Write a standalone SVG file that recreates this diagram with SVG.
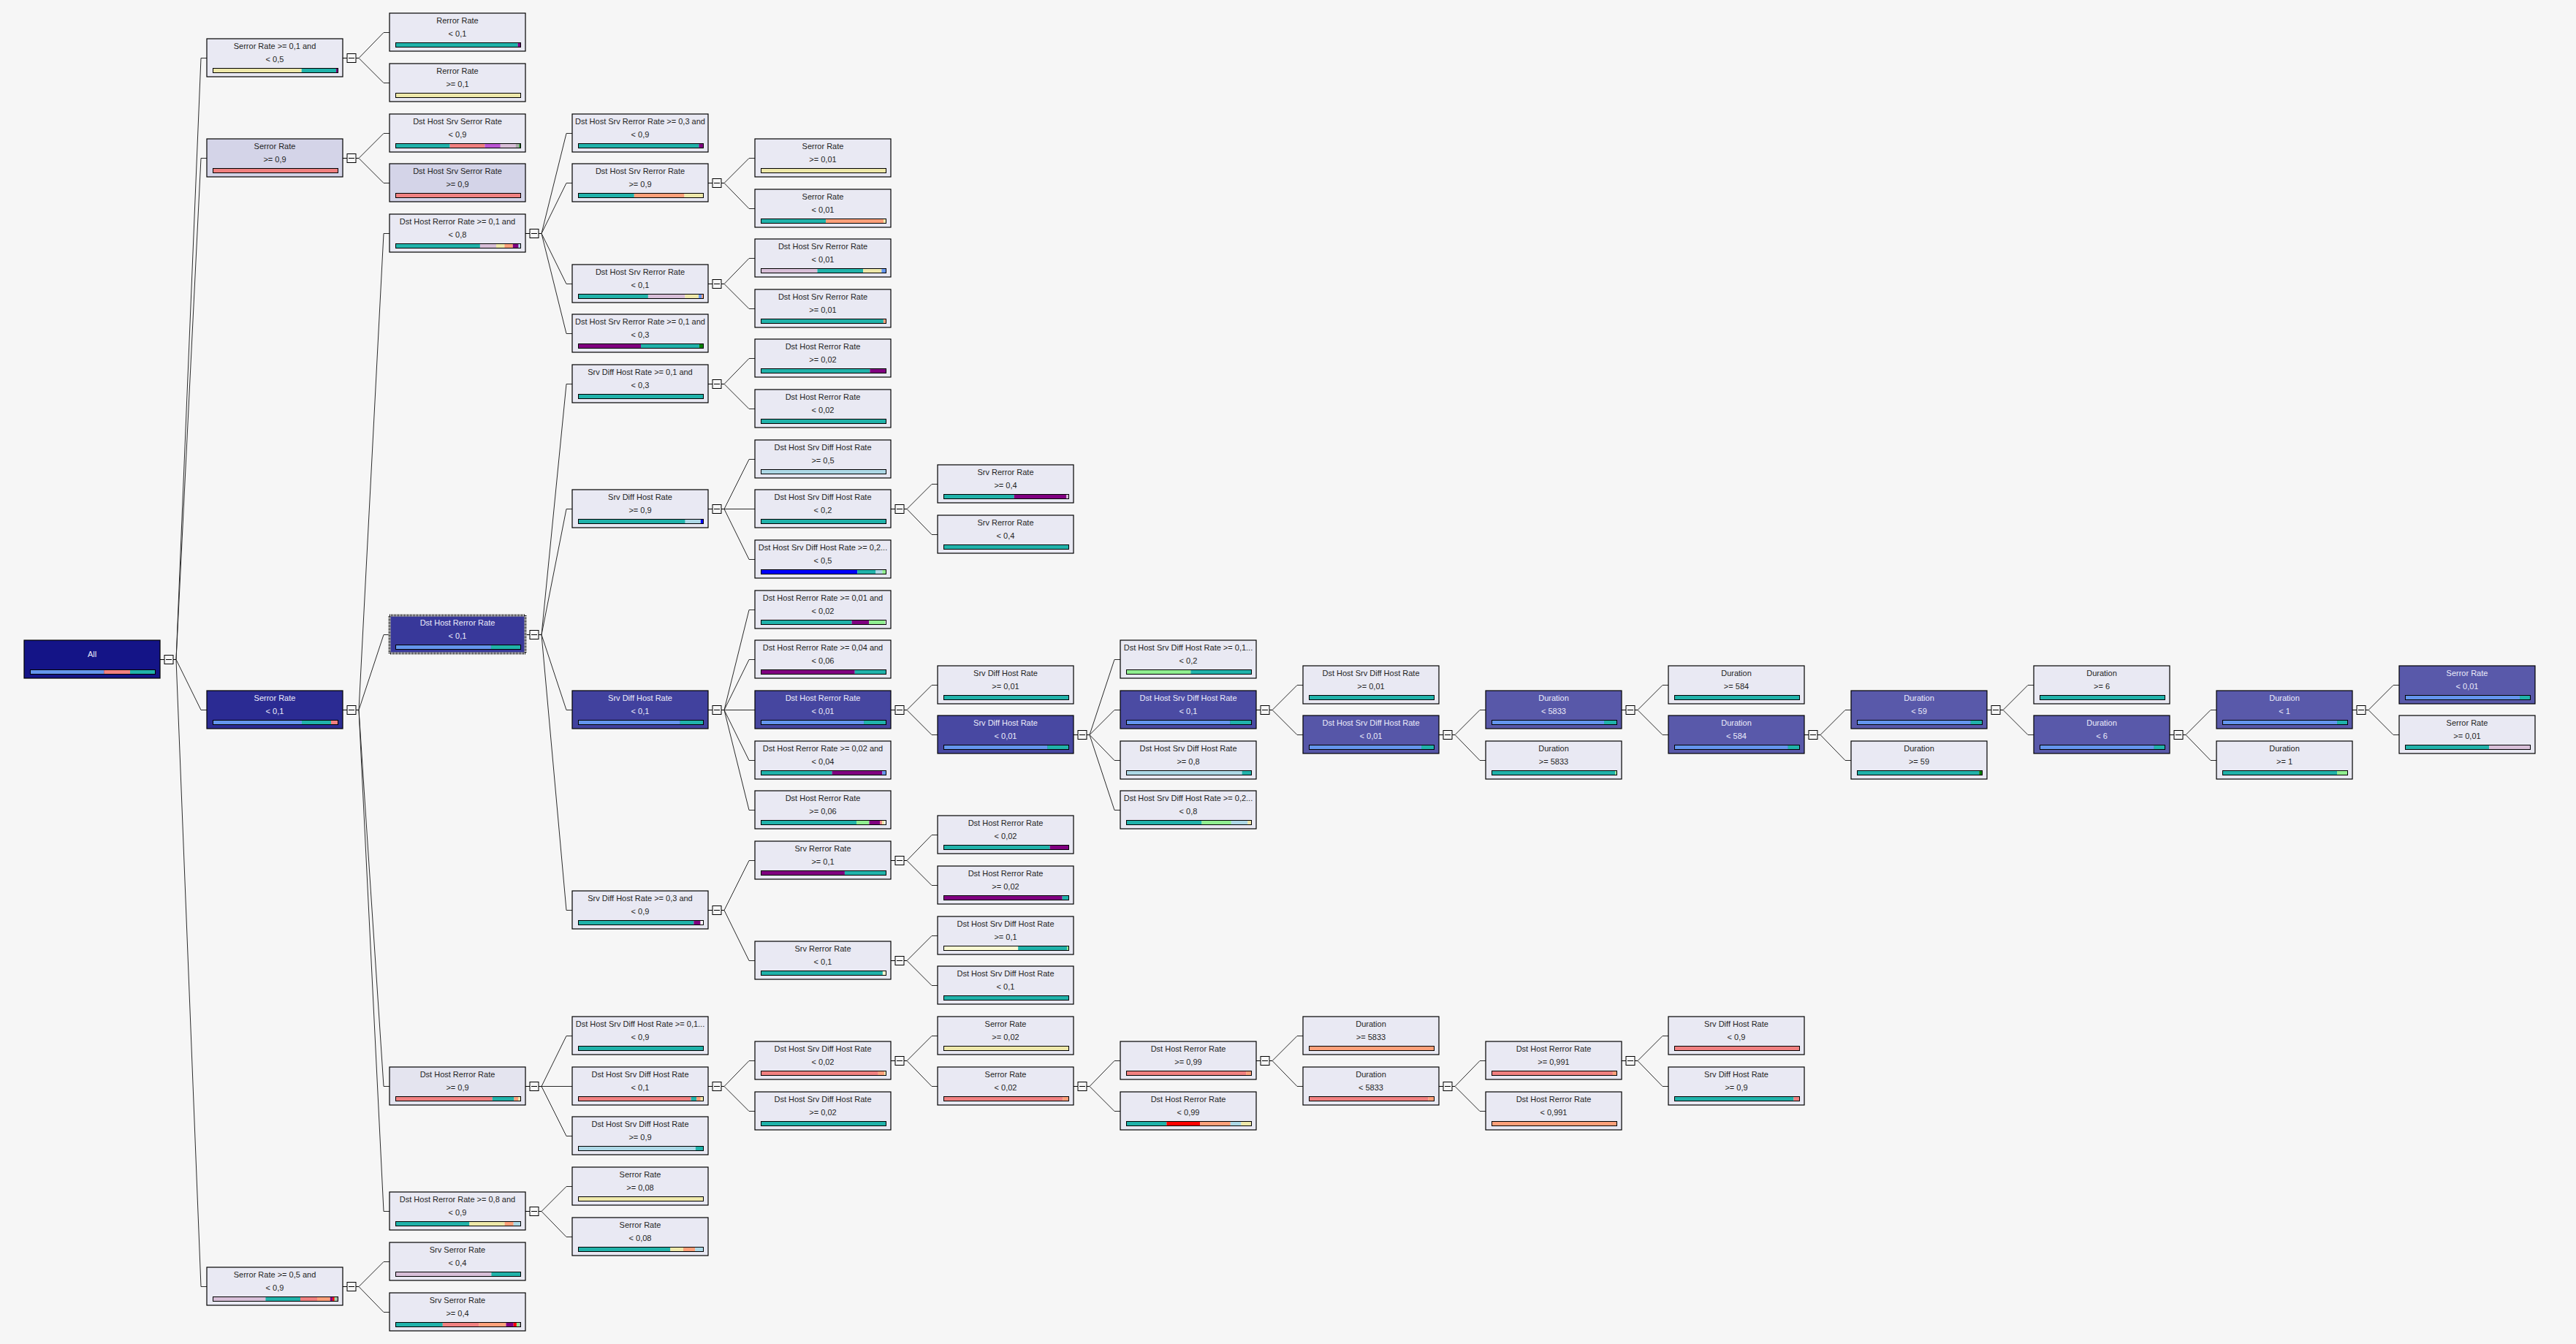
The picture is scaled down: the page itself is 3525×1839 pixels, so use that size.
<svg xmlns="http://www.w3.org/2000/svg" xmlns:xlink="http://www.w3.org/1999/xlink" width="3525" height="1839" viewBox="0 0 3525 1839">
<defs>
<style>
.node text{font-family:"Liberation Sans",Arial,sans-serif;font-size:11px;text-anchor:middle;fill:#1e1e1e}
.node.dk text{fill:#ECECFA}
.box{stroke:#000;stroke-width:1.2;fill:#E9E9F3}
.bo{fill:none;stroke:#000;stroke-width:1}
.edges path{fill:none;stroke:#2a2a2a;stroke-width:1}
.tg rect{fill:#F8F8F8;stroke:#000;stroke-width:1}
.cb{fill:#6495ED}.cr{fill:#F08080}.cg{fill:#20B2AA}.ck{fill:#EEE8AA}.cp{fill:#800080}.co{fill:#BA55D3}
.ct{fill:#D8BFD8}.cy{fill:#A9A9A9}.cdg{fill:#008000}.cs{fill:#FFA07A}.cl{fill:#ADD8E6}.cbl{fill:#0000FF}
.cn{fill:#90EE90}.crd{fill:#FF0000}.cw{fill:#FAFAD2}.cwh{fill:#FFFFFF}
</style>
<g id="tg" class="tg"><path d="M0,0H6M18,0H22" stroke="#000" stroke-width="1"/><rect x="6" y="-6" width="12" height="12"/><path d="M8,0H16" stroke="#000" stroke-width="1"/></g>
</defs>
<rect width="3525" height="1839" fill="#F6F6F6"/>

<!-- connectors: parent fan point -> bend -> child left edge -->
<g id="connectors" class="edges" transform="translate(0,0.5)">
<path d="M241,902L275,79H283M241,902L275,216H283M241,902L275,971H283M241,902L275,1760H283"/>
<path d="M491,79L525,44H533M491,79L525,113H533"/>
<path d="M491,216L525,182H533M491,216L525,250H533"/>
<path d="M491,971L525,319H533M491,971L525,868H533M491,971L525,1486H533M491,971L525,1657H533"/>
<path d="M491,1760L525,1726H533M491,1760L525,1795H533"/>
<path d="M741,319L775,182H783M741,319L775,250H783M741,319L775,388H783M741,319L775,456H783"/>
<path d="M741,868L775,525H783M741,868L775,696H783M741,868L775,971H783M741,868L775,1245H783"/>
<path d="M741,1486L775,1417H783M741,1486L775,1486H783M741,1486L775,1554H783"/>
<path d="M741,1657L775,1623H783M741,1657L775,1692H783"/>
<path d="M991,250L1025,216H1033M991,250L1025,285H1033"/>
<path d="M991,388L1025,353H1033M991,388L1025,422H1033"/>
<path d="M991,525L1025,490H1033M991,525L1025,559H1033"/>
<path d="M991,696L1025,628H1033M991,696L1025,696H1033M991,696L1025,765H1033"/>
<path d="M991,971L1025,834H1033M991,971L1025,902H1033M991,971L1025,971H1033M991,971L1025,1040H1033M991,971L1025,1108H1033"/>
<path d="M991,1245L1025,1177H1033M991,1245L1025,1314H1033"/>
<path d="M991,1486L1025,1451H1033M991,1486L1025,1520H1033"/>
<path d="M1241,696L1275,662H1283M1241,696L1275,731H1283"/>
<path d="M1241,971L1275,937H1283M1241,971L1275,1005H1283"/>
<path d="M1241,1177L1275,1142H1283M1241,1177L1275,1211H1283"/>
<path d="M1241,1314L1275,1280H1283M1241,1314L1275,1348H1283"/>
<path d="M1241,1451L1275,1417H1283M1241,1451L1275,1486H1283"/>
<path d="M1491,1005L1525,902H1533M1491,1005L1525,971H1533M1491,1005L1525,1040H1533M1491,1005L1525,1108H1533"/>
<path d="M1491,1486L1525,1451H1533M1491,1486L1525,1520H1533"/>
<path d="M1741,971L1775,937H1783M1741,971L1775,1005H1783"/>
<path d="M1741,1451L1775,1417H1783M1741,1451L1775,1486H1783"/>
<path d="M1991,1005L2025,971H2033M1991,1005L2025,1040H2033"/>
<path d="M1991,1486L2025,1451H2033M1991,1486L2025,1520H2033"/>
<path d="M2241,971L2275,937H2283M2241,971L2275,1005H2283"/>
<path d="M2241,1451L2275,1417H2283M2241,1451L2275,1486H2283"/>
<path d="M2491,1005L2525,971H2533M2491,1005L2525,1040H2533"/>
<path d="M2741,971L2775,937H2783M2741,971L2775,1005H2783"/>
<path d="M2991,1005L3025,971H3033M2991,1005L3025,1040H3033"/>
<path d="M3241,971L3275,937H3283M3241,971L3275,1005H3283"/>
<!-- collapse toggles -->
<use xlink:href="#tg" href="#tg" x="219" y="902"/>
<use xlink:href="#tg" href="#tg" x="469" y="79"/><use xlink:href="#tg" href="#tg" x="469" y="216"/><use xlink:href="#tg" href="#tg" x="469" y="971"/><use xlink:href="#tg" href="#tg" x="469" y="1760"/>
<use xlink:href="#tg" href="#tg" x="719" y="319"/><use xlink:href="#tg" href="#tg" x="719" y="868"/><use xlink:href="#tg" href="#tg" x="719" y="1486"/><use xlink:href="#tg" href="#tg" x="719" y="1657"/>
<use xlink:href="#tg" href="#tg" x="969" y="250"/><use xlink:href="#tg" href="#tg" x="969" y="388"/><use xlink:href="#tg" href="#tg" x="969" y="525"/><use xlink:href="#tg" href="#tg" x="969" y="696"/><use xlink:href="#tg" href="#tg" x="969" y="971"/><use xlink:href="#tg" href="#tg" x="969" y="1245"/><use xlink:href="#tg" href="#tg" x="969" y="1486"/>
<use xlink:href="#tg" href="#tg" x="1219" y="696"/><use xlink:href="#tg" href="#tg" x="1219" y="971"/><use xlink:href="#tg" href="#tg" x="1219" y="1177"/><use xlink:href="#tg" href="#tg" x="1219" y="1314"/><use xlink:href="#tg" href="#tg" x="1219" y="1451"/>
<use xlink:href="#tg" href="#tg" x="1469" y="1005"/><use xlink:href="#tg" href="#tg" x="1469" y="1486"/>
<use xlink:href="#tg" href="#tg" x="1719" y="971"/><use xlink:href="#tg" href="#tg" x="1719" y="1451"/>
<use xlink:href="#tg" href="#tg" x="1969" y="1005"/><use xlink:href="#tg" href="#tg" x="1969" y="1486"/>
<use xlink:href="#tg" href="#tg" x="2219" y="971"/><use xlink:href="#tg" href="#tg" x="2219" y="1451"/>
<use xlink:href="#tg" href="#tg" x="2469" y="1005"/>
<use xlink:href="#tg" href="#tg" x="2719" y="971"/>
<use xlink:href="#tg" href="#tg" x="2969" y="1005"/>
<use xlink:href="#tg" href="#tg" x="3219" y="971"/>
</g>

<!-- level 0 -->
<g id="n-all" class="node dk" transform="translate(33,876)"><rect class="box" width="186" height="52" style="fill:#141487"/><text x="93" y="23">All</text>
<rect class="cb" x="9" y="41" width="100.3" height="5"/><rect class="cr" x="109.3" y="41" width="35.7" height="5"/><rect class="cg" x="145" y="41" width="34" height="5"/><rect class="bo" x="8.5" y="40.5" width="171" height="6"/></g>

<!-- level 1 -->
<g id="n-serror-01-05" class="node" transform="translate(283,53)"><rect class="box" width="186" height="52"/><text x="93" y="14">Serror Rate &gt;= 0,1 and</text><text x="93" y="32">&lt; 0,5</text>
<rect class="ck" x="9" y="41" width="120.7" height="5"/><rect class="cg" x="129.7" y="41" width="47.3" height="5"/><rect class="cp" x="177" y="41" width="2" height="5"/><rect class="bo" x="8.5" y="40.5" width="171" height="6"/></g>
<g id="n-serror-ge09" class="node" transform="translate(283,190)"><rect class="box" width="186" height="52" style="fill:#D4D4E8"/><text x="93" y="14">Serror Rate</text><text x="93" y="32">&gt;= 0,9</text>
<rect class="cr" x="9" y="41" width="170" height="5"/><rect class="bo" x="8.5" y="40.5" width="171" height="6"/></g>
<g id="n-serror-lt01" class="node dk" transform="translate(283,945)"><rect class="box" width="186" height="52" style="fill:#2B2B93"/><text x="93" y="14">Serror Rate</text><text x="93" y="32">&lt; 0,1</text>
<rect class="cb" x="9" y="41" width="121" height="5"/><rect class="cg" x="130" y="41" width="40" height="5"/><rect class="cr" x="170" y="41" width="9" height="5"/><rect class="bo" x="8.5" y="40.5" width="171" height="6"/></g>
<g id="n-serror-05-09" class="node" transform="translate(283,1734)"><rect class="box" width="186" height="52"/><text x="93" y="14">Serror Rate &gt;= 0,5 and</text><text x="93" y="32">&lt; 0,9</text>
<rect class="ct" x="9" y="41" width="71.4" height="5"/><rect class="cg" x="80.4" y="41" width="47.6" height="5"/><rect class="cr" x="128" y="41" width="23" height="5"/><rect class="cs" x="151" y="41" width="17.8" height="5"/><rect class="cp" x="168.8" y="41" width="3.4" height="5"/><rect class="crd" x="172.2" y="41" width="2.6" height="5"/><rect class="cn" x="174.8" y="41" width="2" height="5"/><rect class="cy" x="176.8" y="41" width="2.2" height="5"/><rect class="bo" x="8.5" y="40.5" width="171" height="6"/></g>

<!-- level 2 -->
<g id="n-rerror-lt01" class="node" transform="translate(533,18)"><rect class="box" width="186" height="52"/><text x="93" y="14">Rerror Rate</text><text x="93" y="32">&lt; 0,1</text>
<rect class="cg" x="9" y="41" width="166.6" height="5"/><rect class="cp" x="175.6" y="41" width="3.4" height="5"/><rect class="bo" x="8.5" y="40.5" width="171" height="6"/></g>
<g id="n-rerror-ge01" class="node" transform="translate(533,87)"><rect class="box" width="186" height="52"/><text x="93" y="14">Rerror Rate</text><text x="93" y="32">&gt;= 0,1</text>
<rect class="ck" x="9" y="41" width="170" height="5"/><rect class="bo" x="8.5" y="40.5" width="171" height="6"/></g>
<g id="n-dhsserror-lt09" class="node" transform="translate(533,156)"><rect class="box" width="186" height="52"/><text x="93" y="14">Dst Host Srv Serror Rate</text><text x="93" y="32">&lt; 0,9</text>
<rect class="cg" x="9" y="41" width="73.6" height="5"/><rect class="cr" x="82.6" y="41" width="47.8" height="5"/><rect class="co" x="130.4" y="41" width="21.4" height="5"/><rect class="ct" x="151.8" y="41" width="20.9" height="5"/><rect class="cy" x="172.7" y="41" width="4.9" height="5"/><rect class="cdg" x="177.6" y="41" width="1.4" height="5"/><rect class="bo" x="8.5" y="40.5" width="171" height="6"/></g>
<g id="n-dhsserror-ge09" class="node" transform="translate(533,224)"><rect class="box" width="186" height="52" style="fill:#D4D4E8"/><text x="93" y="14">Dst Host Srv Serror Rate</text><text x="93" y="32">&gt;= 0,9</text>
<rect class="cr" x="9" y="41" width="170" height="5"/><rect class="bo" x="8.5" y="40.5" width="171" height="6"/></g>
<g id="n-dhrerror-01-08" class="node" transform="translate(533,293)"><rect class="box" width="186" height="52"/><text x="93" y="14">Dst Host Rerror Rate &gt;= 0,1 and</text><text x="93" y="32">&lt; 0,8</text>
<rect class="cg" x="9" y="41" width="114.9" height="5"/><rect class="ct" x="123.9" y="41" width="22.1" height="5"/><rect class="ck" x="146" y="41" width="11.4" height="5"/><rect class="cs" x="157.4" y="41" width="11.4" height="5"/><rect class="cp" x="168.8" y="41" width="7.8" height="5"/><rect class="cl" x="176.6" y="41" width="2.4" height="5"/><rect class="bo" x="8.5" y="40.5" width="171" height="6"/></g>
<g id="n-dhrerror-lt01" class="node dk" transform="translate(533,842)"><rect class="box" width="186" height="52" style="fill:#38389A"/>
<rect x="0" y="0" width="186" height="52" fill="none" stroke="#fff" stroke-width="3"/><rect x="0" y="0" width="186" height="52" fill="none" stroke="#000" stroke-width="3" stroke-dasharray="1 1"/>
<text x="93" y="14">Dst Host Rerror Rate</text><text x="93" y="32">&lt; 0,1</text>
<rect class="cb" x="9" y="41" width="129.9" height="5"/><rect class="cg" x="138.9" y="41" width="40.1" height="5"/><rect class="bo" x="8.5" y="40.5" width="171" height="6"/></g>
<g id="n-dhrerror-ge09" class="node" transform="translate(533,1460)"><rect class="box" width="186" height="52" style="fill:#E4E4EF"/><text x="93" y="14">Dst Host Rerror Rate</text><text x="93" y="32">&gt;= 0,9</text>
<rect class="cr" x="9" y="41" width="131.8" height="5"/><rect class="cg" x="140.8" y="41" width="29.7" height="5"/><rect class="cs" x="170.5" y="41" width="5.8" height="5"/><rect class="ck" x="176.3" y="41" width="2.7" height="5"/><rect class="bo" x="8.5" y="40.5" width="171" height="6"/></g>
<g id="n-dhrerror-08-09" class="node" transform="translate(533,1631)"><rect class="box" width="186" height="52"/><text x="93" y="14">Dst Host Rerror Rate &gt;= 0,8 and</text><text x="93" y="32">&lt; 0,9</text>
<rect class="cg" x="9" y="41" width="100.3" height="5"/><rect class="ck" x="109.3" y="41" width="48.3" height="5"/><rect class="cs" x="157.6" y="41" width="12.1" height="5"/><rect class="cl" x="169.7" y="41" width="9.3" height="5"/><rect class="bo" x="8.5" y="40.5" width="171" height="6"/></g>
<g id="n-srvserror-lt04" class="node" transform="translate(533,1700)"><rect class="box" width="186" height="52"/><text x="93" y="14">Srv Serror Rate</text><text x="93" y="32">&lt; 0,4</text>
<rect class="ct" x="9" y="41" width="130.4" height="5"/><rect class="cg" x="139.4" y="41" width="39.6" height="5"/><rect class="bo" x="8.5" y="40.5" width="171" height="6"/></g>
<g id="n-srvserror-ge04" class="node" transform="translate(533,1769)"><rect class="box" width="186" height="52"/><text x="93" y="14">Srv Serror Rate</text><text x="93" y="32">&gt;= 0,4</text>
<rect class="cg" x="9" y="41" width="63.8" height="5"/><rect class="cr" x="72.8" y="41" width="49.8" height="5"/><rect class="cs" x="122.6" y="41" width="36.9" height="5"/><rect class="cp" x="159.5" y="41" width="10.2" height="5"/><rect class="crd" x="169.7" y="41" width="4.2" height="5"/><rect class="cn" x="173.9" y="41" width="3.4" height="5"/><rect class="cy" x="177.3" y="41" width="1.7" height="5"/><rect class="bo" x="8.5" y="40.5" width="171" height="6"/></g>

<!-- level 3 -->
<g id="n-dhsrerror-03-09" class="node" transform="translate(783,156)"><rect class="box" width="186" height="52"/><text x="93" y="14">Dst Host Srv Rerror Rate &gt;= 0,3 and</text><text x="93" y="32">&lt; 0,9</text>
<rect class="cg" x="9" y="41" width="164.4" height="5"/><rect class="cp" x="173.4" y="41" width="5.6" height="5"/><rect class="bo" x="8.5" y="40.5" width="171" height="6"/></g>
<g id="n-dhsrerror-ge09" class="node" transform="translate(783,224)"><rect class="box" width="186" height="52"/><text x="93" y="14">Dst Host Srv Rerror Rate</text><text x="93" y="32">&gt;= 0,9</text>
<rect class="cg" x="9" y="41" width="75.8" height="5"/><rect class="cs" x="84.8" y="41" width="68.7" height="5"/><rect class="ck" x="153.5" y="41" width="25.5" height="5"/><rect class="bo" x="8.5" y="40.5" width="171" height="6"/></g>
<g id="n-dhsrerror-lt01" class="node" transform="translate(783,362)"><rect class="box" width="186" height="52"/><text x="93" y="14">Dst Host Srv Rerror Rate</text><text x="93" y="32">&lt; 0,1</text>
<rect class="cg" x="9" y="41" width="94.9" height="5"/><rect class="ct" x="103.9" y="41" width="50.5" height="5"/><rect class="ck" x="154.4" y="41" width="18.7" height="5"/><rect class="cb" x="173.1" y="41" width="4.2" height="5"/><rect class="cs" x="177.3" y="41" width="1.7" height="5"/><rect class="bo" x="8.5" y="40.5" width="171" height="6"/></g>
<g id="n-dhsrerror-01-03" class="node" transform="translate(783,430)"><rect class="box" width="186" height="52"/><text x="93" y="14">Dst Host Srv Rerror Rate &gt;= 0,1 and</text><text x="93" y="32">&lt; 0,3</text>
<rect class="cp" x="9" y="41" width="85" height="5"/><rect class="cg" x="94" y="41" width="79.9" height="5"/><rect class="cdg" x="173.9" y="41" width="5.1" height="5"/><rect class="bo" x="8.5" y="40.5" width="171" height="6"/></g>
<g id="n-sdhr-01-03" class="node" transform="translate(783,499)"><rect class="box" width="186" height="52"/><text x="93" y="14">Srv Diff Host Rate &gt;= 0,1 and</text><text x="93" y="32">&lt; 0,3</text>
<rect class="cg" x="9" y="41" width="170" height="5"/><rect class="bo" x="8.5" y="40.5" width="171" height="6"/></g>
<g id="n-sdhr-ge09" class="node" transform="translate(783,670)"><rect class="box" width="186" height="52"/><text x="93" y="14">Srv Diff Host Rate</text><text x="93" y="32">&gt;= 0,9</text>
<rect class="cg" x="9" y="41" width="145.7" height="5"/><rect class="cl" x="154.7" y="41" width="21.1" height="5"/><rect class="cbl" x="175.8" y="41" width="3.2" height="5"/><rect class="bo" x="8.5" y="40.5" width="171" height="6"/></g>
<g id="n-sdhr-lt01" class="node dk" transform="translate(783,945)"><rect class="box" width="186" height="52" style="fill:#41419E"/><text x="93" y="14">Srv Diff Host Rate</text><text x="93" y="32">&lt; 0,1</text>
<rect class="cb" x="9" y="41" width="138.7" height="5"/><rect class="cg" x="147.7" y="41" width="31.3" height="5"/><rect class="bo" x="8.5" y="40.5" width="171" height="6"/></g>
<g id="n-sdhr-03-09" class="node" transform="translate(783,1219)"><rect class="box" width="186" height="52"/><text x="93" y="14">Srv Diff Host Rate &gt;= 0,3 and</text><text x="93" y="32">&lt; 0,9</text>
<rect class="cg" x="9" y="41" width="157.4" height="5"/><rect class="cp" x="166.4" y="41" width="9.2" height="5"/><rect class="cwh" x="175.6" y="41" width="3.4" height="5"/><rect class="bo" x="8.5" y="40.5" width="171" height="6"/></g>
<g id="n-dhsdhr-01-09" class="node" transform="translate(783,1391)"><rect class="box" width="186" height="52"/><text x="93" y="14">Dst Host Srv Diff Host Rate &gt;= 0,1...</text><text x="93" y="32">&lt; 0,9</text>
<rect class="cg" x="9" y="41" width="170" height="5"/><rect class="bo" x="8.5" y="40.5" width="171" height="6"/></g>
<g id="n-dhsdhr-lt01-a" class="node" transform="translate(783,1460)"><rect class="box" width="186" height="52"/><text x="93" y="14">Dst Host Srv Diff Host Rate</text><text x="93" y="32">&lt; 0,1</text>
<rect class="cr" x="9" y="41" width="153.7" height="5"/><rect class="cg" x="162.7" y="41" width="7.5" height="5"/><rect class="cs" x="170.2" y="41" width="5.6" height="5"/><rect class="ck" x="175.8" y="41" width="3.2" height="5"/><rect class="bo" x="8.5" y="40.5" width="171" height="6"/></g>
<g id="n-dhsdhr-ge09" class="node" transform="translate(783,1528)"><rect class="box" width="186" height="52"/><text x="93" y="14">Dst Host Srv Diff Host Rate</text><text x="93" y="32">&gt;= 0,9</text>
<rect class="cl" x="9" y="41" width="159.8" height="5"/><rect class="cg" x="168.8" y="41" width="10.2" height="5"/><rect class="bo" x="8.5" y="40.5" width="171" height="6"/></g>
<g id="n-serror-ge008" class="node" transform="translate(783,1597)"><rect class="box" width="186" height="52"/><text x="93" y="14">Serror Rate</text><text x="93" y="32">&gt;= 0,08</text>
<rect class="ck" x="9" y="41" width="170" height="5"/><rect class="bo" x="8.5" y="40.5" width="171" height="6"/></g>
<g id="n-serror-lt008" class="node" transform="translate(783,1666)"><rect class="box" width="186" height="52"/><text x="93" y="14">Serror Rate</text><text x="93" y="32">&lt; 0,08</text>
<rect class="cg" x="9" y="41" width="125.3" height="5"/><rect class="ck" x="134.3" y="41" width="17.7" height="5"/><rect class="cs" x="152" y="41" width="16.3" height="5"/><rect class="cl" x="168.3" y="41" width="10.7" height="5"/><rect class="bo" x="8.5" y="40.5" width="171" height="6"/></g>

<!-- level 4 -->
<g id="n-serror-ge001-a" class="node" transform="translate(1033,190)"><rect class="box" width="186" height="52"/><text x="93" y="14">Serror Rate</text><text x="93" y="32">&gt;= 0,01</text>
<rect class="ck" x="9" y="41" width="170" height="5"/><rect class="bo" x="8.5" y="40.5" width="171" height="6"/></g>
<g id="n-serror-lt001-a" class="node" transform="translate(1033,259)"><rect class="box" width="186" height="52"/><text x="93" y="14">Serror Rate</text><text x="93" y="32">&lt; 0,01</text>
<rect class="cg" x="9" y="41" width="88.1" height="5"/><rect class="cs" x="97.1" y="41" width="78.9" height="5"/><rect class="ck" x="176" y="41" width="3" height="5"/><rect class="bo" x="8.5" y="40.5" width="171" height="6"/></g>
<g id="n-dhsrerror-lt001" class="node" transform="translate(1033,327)"><rect class="box" width="186" height="52"/><text x="93" y="14">Dst Host Srv Rerror Rate</text><text x="93" y="32">&lt; 0,01</text>
<rect class="ct" x="9" y="41" width="76.5" height="5"/><rect class="cg" x="85.5" y="41" width="62.6" height="5"/><rect class="ck" x="148.1" y="41" width="25.3" height="5"/><rect class="cb" x="173.4" y="41" width="5.6" height="5"/><rect class="bo" x="8.5" y="40.5" width="171" height="6"/></g>
<g id="n-dhsrerror-ge001" class="node" transform="translate(1033,396)"><rect class="box" width="186" height="52"/><text x="93" y="14">Dst Host Srv Rerror Rate</text><text x="93" y="32">&gt;= 0,01</text>
<rect class="cg" x="9" y="41" width="166.9" height="5"/><rect class="cs" x="175.9" y="41" width="3.1" height="5"/><rect class="bo" x="8.5" y="40.5" width="171" height="6"/></g>
<g id="n-dhrerror-ge002-a" class="node" transform="translate(1033,464)"><rect class="box" width="186" height="52"/><text x="93" y="14">Dst Host Rerror Rate</text><text x="93" y="32">&gt;= 0,02</text>
<rect class="cg" x="9" y="41" width="148.4" height="5"/><rect class="cp" x="157.4" y="41" width="21.6" height="5"/><rect class="bo" x="8.5" y="40.5" width="171" height="6"/></g>
<g id="n-dhrerror-lt002-a" class="node" transform="translate(1033,533)"><rect class="box" width="186" height="52"/><text x="93" y="14">Dst Host Rerror Rate</text><text x="93" y="32">&lt; 0,02</text>
<rect class="cg" x="9" y="41" width="170" height="5"/><rect class="bo" x="8.5" y="40.5" width="171" height="6"/></g>
<g id="n-dhsdhr-ge05" class="node" transform="translate(1033,602)"><rect class="box" width="186" height="52"/><text x="93" y="14">Dst Host Srv Diff Host Rate</text><text x="93" y="32">&gt;= 0,5</text>
<rect class="cl" x="9" y="41" width="170" height="5"/><rect class="bo" x="8.5" y="40.5" width="171" height="6"/></g>
<g id="n-dhsdhr-lt02" class="node" transform="translate(1033,670)"><rect class="box" width="186" height="52"/><text x="93" y="14">Dst Host Srv Diff Host Rate</text><text x="93" y="32">&lt; 0,2</text>
<rect class="cg" x="9" y="41" width="170" height="5"/><rect class="bo" x="8.5" y="40.5" width="171" height="6"/></g>
<g id="n-dhsdhr-02-05" class="node" transform="translate(1033,739)"><rect class="box" width="186" height="52"/><text x="93" y="14">Dst Host Srv Diff Host Rate &gt;= 0,2...</text><text x="93" y="32">&lt; 0,5</text>
<rect class="cbl" x="9" y="41" width="131.2" height="5"/><rect class="cg" x="140.2" y="41" width="25.2" height="5"/><rect class="cl" x="165.4" y="41" width="9" height="5"/><rect class="cn" x="174.4" y="41" width="4.6" height="5"/><rect class="bo" x="8.5" y="40.5" width="171" height="6"/></g>
<g id="n-dhrerror-001-002" class="node" transform="translate(1033,808)"><rect class="box" width="186" height="52"/><text x="93" y="14">Dst Host Rerror Rate &gt;= 0,01 and</text><text x="93" y="32">&lt; 0,02</text>
<rect class="cg" x="9" y="41" width="123.6" height="5"/><rect class="cp" x="132.6" y="41" width="23.5" height="5"/><rect class="cn" x="156.1" y="41" width="22.1" height="5"/><rect class="cwh" x="178.2" y="41" width="0.8" height="5"/><rect class="bo" x="8.5" y="40.5" width="171" height="6"/></g>
<g id="n-dhrerror-004-006" class="node" transform="translate(1033,876)"><rect class="box" width="186" height="52"/><text x="93" y="14">Dst Host Rerror Rate &gt;= 0,04 and</text><text x="93" y="32">&lt; 0,06</text>
<rect class="cp" x="9" y="41" width="127.7" height="5"/><rect class="cg" x="136.7" y="41" width="42.3" height="5"/><rect class="bo" x="8.5" y="40.5" width="171" height="6"/></g>
<g id="n-dhrerror-lt001" class="node dk" transform="translate(1033,945)"><rect class="box" width="186" height="52" style="fill:#4646A0"/><text x="93" y="14">Dst Host Rerror Rate</text><text x="93" y="32">&lt; 0,01</text>
<rect class="cb" x="9" y="41" width="140.1" height="5"/><rect class="cg" x="149.1" y="41" width="29.9" height="5"/><rect class="bo" x="8.5" y="40.5" width="171" height="6"/></g>
<g id="n-dhrerror-002-004" class="node" transform="translate(1033,1014)"><rect class="box" width="186" height="52"/><text x="93" y="14">Dst Host Rerror Rate &gt;= 0,02 and</text><text x="93" y="32">&lt; 0,04</text>
<rect class="cg" x="9" y="41" width="96.6" height="5"/><rect class="cp" x="105.6" y="41" width="68.8" height="5"/><rect class="cb" x="174.4" y="41" width="4.6" height="5"/><rect class="bo" x="8.5" y="40.5" width="171" height="6"/></g>
<g id="n-dhrerror-ge006" class="node" transform="translate(1033,1082)"><rect class="box" width="186" height="52"/><text x="93" y="14">Dst Host Rerror Rate</text><text x="93" y="32">&gt;= 0,06</text>
<rect class="cg" x="9" y="41" width="130" height="5"/><rect class="cn" x="139" y="41" width="17.5" height="5"/><rect class="cp" x="156.5" y="41" width="14.6" height="5"/><rect class="cr" x="171.1" y="41" width="2.8" height="5"/><rect class="ck" x="173.9" y="41" width="3.4" height="5"/><rect class="cwh" x="177.3" y="41" width="1.7" height="5"/><rect class="bo" x="8.5" y="40.5" width="171" height="6"/></g>
<g id="n-srvrerror-ge01" class="node" transform="translate(1033,1151)"><rect class="box" width="186" height="52"/><text x="93" y="14">Srv Rerror Rate</text><text x="93" y="32">&gt;= 0,1</text>
<rect class="cp" x="9" y="41" width="113.9" height="5"/><rect class="cg" x="122.9" y="41" width="56.1" height="5"/><rect class="bo" x="8.5" y="40.5" width="171" height="6"/></g>
<g id="n-srvrerror-lt01" class="node" transform="translate(1033,1288)"><rect class="box" width="186" height="52"/><text x="93" y="14">Srv Rerror Rate</text><text x="93" y="32">&lt; 0,1</text>
<rect class="cg" x="9" y="41" width="165.9" height="5"/><rect class="cw" x="174.9" y="41" width="4.1" height="5"/><rect class="bo" x="8.5" y="40.5" width="171" height="6"/></g>
<g id="n-dhsdhr-lt002" class="node" transform="translate(1033,1425)"><rect class="box" width="186" height="52"/><text x="93" y="14">Dst Host Srv Diff Host Rate</text><text x="93" y="32">&lt; 0,02</text>
<rect class="cr" x="9" y="41" width="159.8" height="5"/><rect class="cs" x="168.8" y="41" width="8.5" height="5"/><rect class="ck" x="177.3" y="41" width="1.7" height="5"/><rect class="bo" x="8.5" y="40.5" width="171" height="6"/></g>
<g id="n-dhsdhr-ge002" class="node" transform="translate(1033,1494)"><rect class="box" width="186" height="52"/><text x="93" y="14">Dst Host Srv Diff Host Rate</text><text x="93" y="32">&gt;= 0,02</text>
<rect class="cg" x="9" y="41" width="170" height="5"/><rect class="bo" x="8.5" y="40.5" width="171" height="6"/></g>

<!-- level 5 -->
<g id="n-srvrerror-ge04" class="node" transform="translate(1283,636)"><rect class="box" width="186" height="52"/><text x="93" y="14">Srv Rerror Rate</text><text x="93" y="32">&gt;= 0,4</text>
<rect class="cg" x="9" y="41" width="95.7" height="5"/><rect class="cp" x="104.7" y="41" width="71.6" height="5"/><rect class="ct" x="176.3" y="41" width="2.7" height="5"/><rect class="bo" x="8.5" y="40.5" width="171" height="6"/></g>
<g id="n-srvrerror-lt04" class="node" transform="translate(1283,705)"><rect class="box" width="186" height="52"/><text x="93" y="14">Srv Rerror Rate</text><text x="93" y="32">&lt; 0,4</text>
<rect class="cg" x="9" y="41" width="170" height="5"/><rect class="bo" x="8.5" y="40.5" width="171" height="6"/></g>
<g id="n-sdhr-ge001" class="node" transform="translate(1283,911)"><rect class="box" width="186" height="52"/><text x="93" y="14">Srv Diff Host Rate</text><text x="93" y="32">&gt;= 0,01</text>
<rect class="cg" x="9" y="41" width="170" height="5"/><rect class="bo" x="8.5" y="40.5" width="171" height="6"/></g>
<g id="n-sdhr-lt001" class="node dk" transform="translate(1283,979)"><rect class="box" width="186" height="52" style="fill:#4848A2"/><text x="93" y="14">Srv Diff Host Rate</text><text x="93" y="32">&lt; 0,01</text>
<rect class="cb" x="9" y="41" width="141.4" height="5"/><rect class="cg" x="150.4" y="41" width="28.6" height="5"/><rect class="bo" x="8.5" y="40.5" width="171" height="6"/></g>
<g id="n-dhrerror-lt002-b" class="node" transform="translate(1283,1116)"><rect class="box" width="186" height="52"/><text x="93" y="14">Dst Host Rerror Rate</text><text x="93" y="32">&lt; 0,02</text>
<rect class="cg" x="9" y="41" width="144.7" height="5"/><rect class="cp" x="153.7" y="41" width="25.3" height="5"/><rect class="bo" x="8.5" y="40.5" width="171" height="6"/></g>
<g id="n-dhrerror-ge002-b" class="node" transform="translate(1283,1185)"><rect class="box" width="186" height="52"/><text x="93" y="14">Dst Host Rerror Rate</text><text x="93" y="32">&gt;= 0,02</text>
<rect class="cp" x="9" y="41" width="161.7" height="5"/><rect class="cg" x="170.7" y="41" width="8.3" height="5"/><rect class="bo" x="8.5" y="40.5" width="171" height="6"/></g>
<g id="n-dhsdhr-ge01" class="node" transform="translate(1283,1254)"><rect class="box" width="186" height="52"/><text x="93" y="14">Dst Host Srv Diff Host Rate</text><text x="93" y="32">&gt;= 0,1</text>
<rect class="cw" x="9" y="41" width="101.2" height="5"/><rect class="cg" x="110.2" y="41" width="67" height="5"/><rect class="cn" x="177.2" y="41" width="1.8" height="5"/><rect class="bo" x="8.5" y="40.5" width="171" height="6"/></g>
<g id="n-dhsdhr-lt01-b" class="node" transform="translate(1283,1322)"><rect class="box" width="186" height="52"/><text x="93" y="14">Dst Host Srv Diff Host Rate</text><text x="93" y="32">&lt; 0,1</text>
<rect class="cg" x="9" y="41" width="170" height="5"/><rect class="bo" x="8.5" y="40.5" width="171" height="6"/></g>
<g id="n-serror-ge002" class="node" transform="translate(1283,1391)"><rect class="box" width="186" height="52"/><text x="93" y="14">Serror Rate</text><text x="93" y="32">&gt;= 0,02</text>
<rect class="ck" x="9" y="41" width="170" height="5"/><rect class="bo" x="8.5" y="40.5" width="171" height="6"/></g>
<g id="n-serror-lt002" class="node" transform="translate(1283,1460)"><rect class="box" width="186" height="52"/><text x="93" y="14">Serror Rate</text><text x="93" y="32">&lt; 0,02</text>
<rect class="cr" x="9" y="41" width="162.5" height="5"/><rect class="cs" x="171.5" y="41" width="7.5" height="5"/><rect class="bo" x="8.5" y="40.5" width="171" height="6"/></g>

<!-- level 6 -->
<g id="n-dhsdhr-01-02" class="node" transform="translate(1533,876)"><rect class="box" width="186" height="52"/><text x="93" y="14">Dst Host Srv Diff Host Rate &gt;= 0,1...</text><text x="93" y="32">&lt; 0,2</text>
<rect class="cn" x="9" y="41" width="87.4" height="5"/><rect class="cg" x="96.4" y="41" width="82.6" height="5"/><rect class="bo" x="8.5" y="40.5" width="171" height="6"/></g>
<g id="n-dhsdhr-lt01-c" class="node dk" transform="translate(1533,945)"><rect class="box" width="186" height="52" style="fill:#4B4BA3"/><text x="93" y="14">Dst Host Srv Diff Host Rate</text><text x="93" y="32">&lt; 0,1</text>
<rect class="cb" x="9" y="41" width="141.4" height="5"/><rect class="cg" x="150.4" y="41" width="28.6" height="5"/><rect class="bo" x="8.5" y="40.5" width="171" height="6"/></g>
<g id="n-dhsdhr-ge08" class="node" transform="translate(1533,1014)"><rect class="box" width="186" height="52"/><text x="93" y="14">Dst Host Srv Diff Host Rate</text><text x="93" y="32">&gt;= 0,8</text>
<rect class="cl" x="9" y="41" width="157.6" height="5"/><rect class="cg" x="166.6" y="41" width="12.4" height="5"/><rect class="bo" x="8.5" y="40.5" width="171" height="6"/></g>
<g id="n-dhsdhr-02-08" class="node" transform="translate(1533,1082)"><rect class="box" width="186" height="52"/><text x="93" y="14">Dst Host Srv Diff Host Rate &gt;= 0,2...</text><text x="93" y="32">&lt; 0,8</text>
<rect class="cg" x="9" y="41" width="102.5" height="5"/><rect class="cn" x="111.5" y="41" width="40.3" height="5"/><rect class="cl" x="151.8" y="41" width="22.6" height="5"/><rect class="ck" x="174.4" y="41" width="4.6" height="5"/><rect class="bo" x="8.5" y="40.5" width="171" height="6"/></g>
<g id="n-dhrerror-ge099" class="node" transform="translate(1533,1425)"><rect class="box" width="186" height="52"/><text x="93" y="14">Dst Host Rerror Rate</text><text x="93" y="32">&gt;= 0,99</text>
<rect class="cr" x="9" y="41" width="163.2" height="5"/><rect class="cs" x="172.2" y="41" width="6.8" height="5"/><rect class="bo" x="8.5" y="40.5" width="171" height="6"/></g>
<g id="n-dhrerror-lt099" class="node" transform="translate(1533,1494)"><rect class="box" width="186" height="52"/><text x="93" y="14">Dst Host Rerror Rate</text><text x="93" y="32">&lt; 0,99</text>
<rect class="cg" x="9" y="41" width="54.4" height="5"/><rect class="crd" x="63.4" y="41" width="45.9" height="5"/><rect class="cs" x="109.3" y="41" width="41.5" height="5"/><rect class="cl" x="150.8" y="41" width="14.6" height="5"/><rect class="ck" x="165.4" y="41" width="13.6" height="5"/><rect class="bo" x="8.5" y="40.5" width="171" height="6"/></g>

<!-- level 7 -->
<g id="n-dhsdhr-ge001" class="node" transform="translate(1783,911)"><rect class="box" width="186" height="52"/><text x="93" y="14">Dst Host Srv Diff Host Rate</text><text x="93" y="32">&gt;= 0,01</text>
<rect class="cg" x="9" y="41" width="170" height="5"/><rect class="bo" x="8.5" y="40.5" width="171" height="6"/></g>
<g id="n-dhsdhr-lt001" class="node dk" transform="translate(1783,979)"><rect class="box" width="186" height="52" style="fill:#5656A8"/><text x="93" y="14">Dst Host Srv Diff Host Rate</text><text x="93" y="32">&lt; 0,01</text>
<rect class="cb" x="9" y="41" width="153" height="5"/><rect class="cg" x="162" y="41" width="17" height="5"/><rect class="bo" x="8.5" y="40.5" width="171" height="6"/></g>
<g id="n-duration-ge5833-a" class="node" transform="translate(1783,1391)"><rect class="box" width="186" height="52"/><text x="93" y="14">Duration</text><text x="93" y="32">&gt;= 5833</text>
<rect class="cs" x="9" y="41" width="170" height="5"/><rect class="bo" x="8.5" y="40.5" width="171" height="6"/></g>
<g id="n-duration-lt5833-a" class="node" transform="translate(1783,1460)"><rect class="box" width="186" height="52"/><text x="93" y="14">Duration</text><text x="93" y="32">&lt; 5833</text>
<rect class="cr" x="9" y="41" width="162.5" height="5"/><rect class="cs" x="171.5" y="41" width="7.5" height="5"/><rect class="bo" x="8.5" y="40.5" width="171" height="6"/></g>

<!-- level 8 -->
<g id="n-duration-lt5833-b" class="node dk" transform="translate(2033,945)"><rect class="box" width="186" height="52" style="fill:#5858A9"/><text x="93" y="14">Duration</text><text x="93" y="32">&lt; 5833</text>
<rect class="cb" x="9" y="41" width="153" height="5"/><rect class="cg" x="162" y="41" width="17" height="5"/><rect class="bo" x="8.5" y="40.5" width="171" height="6"/></g>
<g id="n-duration-ge5833-b" class="node" transform="translate(2033,1014)"><rect class="box" width="186" height="52"/><text x="93" y="14">Duration</text><text x="93" y="32">&gt;= 5833</text>
<rect class="cg" x="9" y="41" width="168.3" height="5"/><rect class="cn" x="177.3" y="41" width="1.7" height="5"/><rect class="bo" x="8.5" y="40.5" width="171" height="6"/></g>
<g id="n-dhrerror-ge0991" class="node" transform="translate(2033,1425)"><rect class="box" width="186" height="52"/><text x="93" y="14">Dst Host Rerror Rate</text><text x="93" y="32">&gt;= 0,991</text>
<rect class="cr" x="9" y="41" width="164.9" height="5"/><rect class="cs" x="173.9" y="41" width="5.1" height="5"/><rect class="bo" x="8.5" y="40.5" width="171" height="6"/></g>
<g id="n-dhrerror-lt0991" class="node" transform="translate(2033,1494)"><rect class="box" width="186" height="52"/><text x="93" y="14">Dst Host Rerror Rate</text><text x="93" y="32">&lt; 0,991</text>
<rect class="cs" x="9" y="41" width="170" height="5"/><rect class="bo" x="8.5" y="40.5" width="171" height="6"/></g>

<!-- level 9 -->
<g id="n-duration-ge584" class="node" transform="translate(2283,911)"><rect class="box" width="186" height="52"/><text x="93" y="14">Duration</text><text x="93" y="32">&gt;= 584</text>
<rect class="cg" x="9" y="41" width="170" height="5"/><rect class="bo" x="8.5" y="40.5" width="171" height="6"/></g>
<g id="n-duration-lt584" class="node dk" transform="translate(2283,979)"><rect class="box" width="186" height="52" style="fill:#5959AA"/><text x="93" y="14">Duration</text><text x="93" y="32">&lt; 584</text>
<rect class="cb" x="9" y="41" width="154.7" height="5"/><rect class="cg" x="163.7" y="41" width="15.3" height="5"/><rect class="bo" x="8.5" y="40.5" width="171" height="6"/></g>
<g id="n-sdhr-lt09" class="node" transform="translate(2283,1391)"><rect class="box" width="186" height="52"/><text x="93" y="14">Srv Diff Host Rate</text><text x="93" y="32">&lt; 0,9</text>
<rect class="cr" x="9" y="41" width="170" height="5"/><rect class="bo" x="8.5" y="40.5" width="171" height="6"/></g>
<g id="n-sdhr-ge09-b" class="node" transform="translate(2283,1460)"><rect class="box" width="186" height="52"/><text x="93" y="14">Srv Diff Host Rate</text><text x="93" y="32">&gt;= 0,9</text>
<rect class="cg" x="9" y="41" width="162.5" height="5"/><rect class="cr" x="171.5" y="41" width="7.5" height="5"/><rect class="bo" x="8.5" y="40.5" width="171" height="6"/></g>

<!-- level 10 -->
<g id="n-duration-lt59" class="node dk" transform="translate(2533,945)"><rect class="box" width="186" height="52" style="fill:#5959AA"/><text x="93" y="14">Duration</text><text x="93" y="32">&lt; 59</text>
<rect class="cb" x="9" y="41" width="154.7" height="5"/><rect class="cg" x="163.7" y="41" width="15.3" height="5"/><rect class="bo" x="8.5" y="40.5" width="171" height="6"/></g>
<g id="n-duration-ge59" class="node" transform="translate(2533,1014)"><rect class="box" width="186" height="52"/><text x="93" y="14">Duration</text><text x="93" y="32">&gt;= 59</text>
<rect class="cg" x="9" y="41" width="166.3" height="5"/><rect class="cdg" x="175.3" y="41" width="3.7" height="5"/><rect class="bo" x="8.5" y="40.5" width="171" height="6"/></g>

<!-- level 11 -->
<g id="n-duration-ge6" class="node" transform="translate(2783,911)"><rect class="box" width="186" height="52"/><text x="93" y="14">Duration</text><text x="93" y="32">&gt;= 6</text>
<rect class="cg" x="9" y="41" width="170" height="5"/><rect class="bo" x="8.5" y="40.5" width="171" height="6"/></g>
<g id="n-duration-lt6" class="node dk" transform="translate(2783,979)"><rect class="box" width="186" height="52" style="fill:#5959AA"/><text x="93" y="14">Duration</text><text x="93" y="32">&lt; 6</text>
<rect class="cb" x="9" y="41" width="155.6" height="5"/><rect class="cg" x="164.6" y="41" width="14.4" height="5"/><rect class="bo" x="8.5" y="40.5" width="171" height="6"/></g>

<!-- level 12 -->
<g id="n-duration-lt1" class="node dk" transform="translate(3033,945)"><rect class="box" width="186" height="52" style="fill:#5959AA"/><text x="93" y="14">Duration</text><text x="93" y="32">&lt; 1</text>
<rect class="cb" x="9" y="41" width="156.1" height="5"/><rect class="cg" x="165.1" y="41" width="13.9" height="5"/><rect class="bo" x="8.5" y="40.5" width="171" height="6"/></g>
<g id="n-duration-ge1" class="node" transform="translate(3033,1014)"><rect class="box" width="186" height="52"/><text x="93" y="14">Duration</text><text x="93" y="32">&gt;= 1</text>
<rect class="cg" x="9" y="41" width="156.1" height="5"/><rect class="cn" x="165.1" y="41" width="13.9" height="5"/><rect class="bo" x="8.5" y="40.5" width="171" height="6"/></g>

<!-- level 13 -->
<g id="n-serror-lt001-b" class="node dk" transform="translate(3283,911)"><rect class="box" width="186" height="52" style="fill:#5959AA"/><text x="93" y="14">Serror Rate</text><text x="93" y="32">&lt; 0,01</text>
<rect class="cb" x="9" y="41" width="156.1" height="5"/><rect class="cg" x="165.1" y="41" width="13.9" height="5"/><rect class="bo" x="8.5" y="40.5" width="171" height="6"/></g>
<g id="n-serror-ge001-b" class="node" transform="translate(3283,979)"><rect class="box" width="186" height="52"/><text x="93" y="14">Serror Rate</text><text x="93" y="32">&gt;= 0,01</text>
<rect class="cg" x="9" y="41" width="114.1" height="5"/><rect class="ct" x="123.1" y="41" width="55.9" height="5"/><rect class="bo" x="8.5" y="40.5" width="171" height="6"/></g>
</svg>
